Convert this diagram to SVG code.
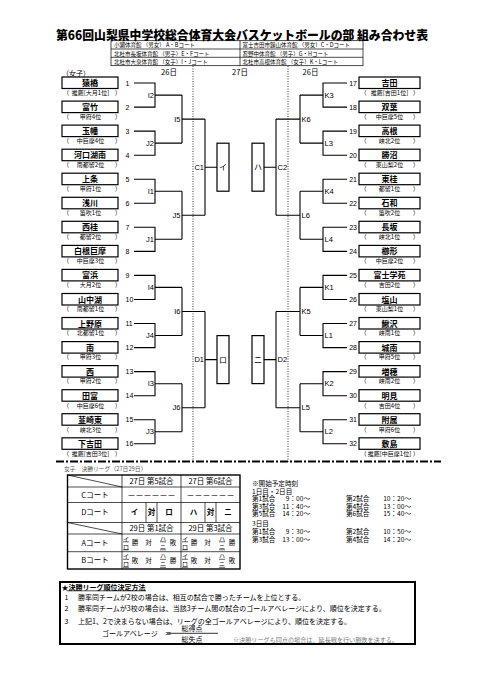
<svg xmlns="http://www.w3.org/2000/svg" width="481" height="680" viewBox="0 0 481 680">
<style>
.t{font-family:"Noto Sans CJK JP","Noto Sans",sans-serif;fill:#000}
.l{font-family:"Liberation Sans",Arial,sans-serif;fill:#000}
.box{fill:#fff;stroke:#000;stroke-width:1.2}
.ln{fill:none;stroke:#000;stroke-width:1.1}
.thin{fill:none;stroke:#000;stroke-width:0.7}
.nm{font-size:8px;font-weight:700;text-anchor:middle}
.sb{font-size:6px;text-anchor:middle}
.pl{font-size:6px}
.pr{font-size:6px;text-anchor:end}
.num{font-size:7px}
.numr{font-size:7px;text-anchor:end}
.lab{font-size:7.5px;text-anchor:end}
.labr{font-size:7.5px}
.hd{font-size:5.5px}
.mid{text-anchor:middle}
.tb{font-size:7.5px;text-anchor:middle}
.sc{font-size:6.6px}
.sce{font-size:6.6px;text-anchor:end}
.nt{font-size:7px}
</style>
<rect x="0" y="0" width="481" height="680" fill="#fff"/>

<g id="title">
<text class="t" x="56" y="40.3" font-size="12.3" font-weight="900" textLength="372" lengthAdjust="spacingAndGlyphs">第66回山梨県中学校総合体育大会バスケットボールの部 組み合わせ表</text>
</g>

<g id="venues">
<rect class="thin" x="111" y="40.7" width="252" height="25"/>
<line class="thin" x1="240" y1="40.7" x2="240" y2="65.7"/>
<line class="thin" x1="111" y1="49" x2="363" y2="49"/>
<line class="thin" x1="111" y1="57.3" x2="363" y2="57.3"/>
<text class="t hd" x="114" y="47.4">小瀬体育館 （男女） A・Bコート</text>
<text class="t hd" x="242.5" y="47.4">富士吉田市鐘山体育館 （男女）C・Dコート</text>
<text class="t hd" x="114" y="55.6">北杜市長坂体育館 （男子）E・Fコート</text>
<text class="t hd" x="242.5" y="55.6">忍野中体育館 （男子）G・Hコート</text>
<text class="t hd" x="114" y="63.8">北杜市大泉体育館 （女子）I・Jコート</text>
<text class="t hd" x="242.5" y="63.8">北杜市高根体育館 （女子）K・Lコート</text>
</g>

<g id="dayheads">
<text class="t" x="62" y="75.5" font-size="7">（女子）</text>
<text class="t mid" x="169" y="75" font-size="7.5">26日</text>
<text class="t mid" x="240" y="75" font-size="7.5">27日</text>
<text class="t mid" x="310.5" y="75" font-size="7.5">26日</text>
</g>

<g id="separators">
<line x1="193" y1="66" x2="193" y2="462" stroke="#000" stroke-width="0.8" stroke-dasharray="1 1.5"/>
<line x1="288" y1="66" x2="288" y2="462" stroke="#000" stroke-width="0.8" stroke-dasharray="1 1.5"/>
<line x1="56" y1="461.5" x2="441" y2="461.5" stroke="#000" stroke-width="2" stroke-dasharray="8 2 2 2"/>
</g>

<g id="connectors">
<path class="ln" d="M134 83 H155 V107.1 H134 M155 95.1 H182 M134 131.1 H155 V155.2 H134 M155 143.1 H182 M134 179.2 H155 V203.3 H134 M155 191.2 H182 M134 227.3 H155 V251.4 H134 M155 239.3 H182 M134 275.4 H155 V299.5 H134 M155 287.4 H182 M134 323.5 H155 V347.6 H134 M155 335.5 H182 M134 371.6 H155 V395.7 H134 M155 383.7 H182 M134 419.7 H155 V443.8 H134 M155 431.7 H182"/>
<path class="ln" d="M182 95.1 V143.1 M182 119.1 H205 M182 191.2 V239.3 M182 215.3 H205 M182 287.4 V335.5 M182 311.5 H205 M182 383.7 V431.7 M182 407.7 H205"/>
<path class="ln" d="M205 119.1 V215.3 M205 167.2 H217 M205 311.5 V407.7 M205 359.6 H217"/>
<path class="ln" d="M347 83 H323 V107.1 H347 M323 95.1 H300 M347 131.1 H323 V155.2 H347 M323 143.1 H300 M347 179.2 H323 V203.3 H347 M323 191.2 H300 M347 227.3 H323 V251.4 H347 M323 239.3 H300 M347 275.4 H323 V299.5 H347 M323 287.4 H300 M347 323.5 H323 V347.6 H347 M323 335.5 H300 M347 371.6 H323 V395.7 H347 M323 383.7 H300 M347 419.7 H323 V443.8 H347 M323 431.7 H300"/>
<path class="ln" d="M300 95.1 V143.1 M300 119.1 H276 M300 191.2 V239.3 M300 215.3 H276 M300 287.4 V335.5 M300 311.5 H276 M300 383.7 V431.7 M300 407.7 H276"/>
<path class="ln" d="M276 119.1 V215.3 M276 167.2 H264 M276 311.5 V407.7 M276 359.6 H264"/>
</g>

<g id="match-labels">
<text class="l lab" x="154" y="97.7">I2</text>
<text class="l lab" x="154" y="145.7">J2</text>
<text class="l lab" x="154" y="193.8">I1</text>
<text class="l lab" x="154" y="241.9">J1</text>
<text class="l lab" x="154" y="290">I4</text>
<text class="l lab" x="154" y="338.1">J4</text>
<text class="l lab" x="154" y="386.3">I3</text>
<text class="l lab" x="154" y="434.3">J3</text>
<text class="l lab" x="180.5" y="121.7">I5</text>
<text class="l lab" x="180.5" y="217.9">J5</text>
<text class="l lab" x="180.5" y="314.1">I6</text>
<text class="l lab" x="180.5" y="410.3">J6</text>
<text class="l lab" x="204" y="169.8">C1</text>
<text class="l lab" x="204" y="362.2">D1</text>
<text class="l labr" x="324.5" y="97.7">K3</text>
<text class="l labr" x="324.5" y="145.7">L3</text>
<text class="l labr" x="324.5" y="193.8">K4</text>
<text class="l labr" x="324.5" y="241.9">L4</text>
<text class="l labr" x="324.5" y="290">K1</text>
<text class="l labr" x="324.5" y="338.1">L1</text>
<text class="l labr" x="324.5" y="386.3">K2</text>
<text class="l labr" x="324.5" y="434.3">L2</text>
<text class="l labr" x="301.5" y="121.7">K6</text>
<text class="l labr" x="301.5" y="217.9">L6</text>
<text class="l labr" x="301.5" y="314.1">K5</text>
<text class="l labr" x="301.5" y="410.3">L5</text>
<text class="l labr" x="277.5" y="169.8">C2</text>
<text class="l labr" x="277.5" y="362.2">D2</text>
</g>

<g id="final-i"><rect class="box" x="217" y="143.2" width="12" height="48"/><text class="t mid" x="223" y="170" font-size="8">イ</text></g>
<g id="final-ro"><rect class="box" x="217" y="335.6" width="12" height="48"/><text class="t mid" x="223" y="362.5" font-size="8">ロ</text></g>
<g id="final-ha"><rect class="box" x="252" y="143.2" width="12" height="48"/><text class="t mid" x="258" y="170" font-size="8">ハ</text></g>
<g id="final-ni"><rect class="box" x="252" y="335.6" width="12" height="48"/><text class="t mid" x="258" y="362.5" font-size="8">ニ</text></g>

<g id="team1"><rect class="box" x="62" y="77" width="56" height="11.5"/><text class="t nm" x="90" y="86">猿橋</text><text class="t pl" x="63" y="94.8">（</text><text class="t sb" x="90.5" y="94.8">推薦[大月1位]</text><text class="t pr" x="121" y="94.8">）</text><text class="l num" x="125.5" y="85.5">1</text></g>
<g id="team2"><rect class="box" x="62" y="101.1" width="56" height="11.5"/><text class="t nm" x="90" y="110.1">富竹</text><text class="t pl" x="63" y="118.9">（</text><text class="t sb" x="90.5" y="118.9">甲府4位</text><text class="t pr" x="121" y="118.9">）</text><text class="l num" x="125.5" y="109.6">2</text></g>
<g id="team3"><rect class="box" x="62" y="125.1" width="56" height="11.5"/><text class="t nm" x="90" y="134.1">玉幡</text><text class="t pl" x="63" y="142.9">（</text><text class="t sb" x="90.5" y="142.9">中巨摩4位</text><text class="t pr" x="121" y="142.9">）</text><text class="l num" x="125.5" y="133.6">3</text></g>
<g id="team4"><rect class="box" x="62" y="149.2" width="56" height="11.5"/><text class="t nm" x="90" y="158.2">河口湖南</text><text class="t pl" x="63" y="167">（</text><text class="t sb" x="90.5" y="167">南都留2位</text><text class="t pr" x="121" y="167">）</text><text class="l num" x="125.5" y="157.7">4</text></g>
<g id="team5"><rect class="box" x="62" y="173.2" width="56" height="11.5"/><text class="t nm" x="90" y="182.2">上条</text><text class="t pl" x="63" y="191">（</text><text class="t sb" x="90.5" y="191">甲府1位</text><text class="t pr" x="121" y="191">）</text><text class="l num" x="125.5" y="181.7">5</text></g>
<g id="team6"><rect class="box" x="62" y="197.3" width="56" height="11.5"/><text class="t nm" x="90" y="206.3">浅川</text><text class="t pl" x="63" y="215.1">（</text><text class="t sb" x="90.5" y="215.1">笛吹1位</text><text class="t pr" x="121" y="215.1">）</text><text class="l num" x="125.5" y="205.8">6</text></g>
<g id="team7"><rect class="box" x="62" y="221.3" width="56" height="11.5"/><text class="t nm" x="90" y="230.3">西桂</text><text class="t pl" x="63" y="239.1">（</text><text class="t sb" x="90.5" y="239.1">都留2位</text><text class="t pr" x="121" y="239.1">）</text><text class="l num" x="125.5" y="229.8">7</text></g>
<g id="team8"><rect class="box" x="62" y="245.4" width="56" height="11.5"/><text class="t nm" x="90" y="254.4">白根巨摩</text><text class="t pl" x="63" y="263.2">（</text><text class="t sb" x="90.5" y="263.2">中巨摩3位</text><text class="t pr" x="121" y="263.2">）</text><text class="l num" x="125.5" y="253.9">8</text></g>
<g id="team9"><rect class="box" x="62" y="269.4" width="56" height="11.5"/><text class="t nm" x="90" y="278.4">富浜</text><text class="t pl" x="63" y="287.2">（</text><text class="t sb" x="90.5" y="287.2">大月2位</text><text class="t pr" x="121" y="287.2">）</text><text class="l num" x="125.5" y="277.9">9</text></g>
<g id="team10"><rect class="box" x="62" y="293.5" width="56" height="11.5"/><text class="t nm" x="90" y="302.5">山中湖</text><text class="t pl" x="63" y="311.3">（</text><text class="t sb" x="90.5" y="311.3">南都留1位</text><text class="t pr" x="121" y="311.3">）</text><text class="l num" x="125.5" y="302">10</text></g>
<g id="team11"><rect class="box" x="62" y="317.5" width="56" height="11.5"/><text class="t nm" x="90" y="326.5">上野原</text><text class="t pl" x="63" y="335.3">（</text><text class="t sb" x="90.5" y="335.3">北都留1位</text><text class="t pr" x="121" y="335.3">）</text><text class="l num" x="125.5" y="326">11</text></g>
<g id="team12"><rect class="box" x="62" y="341.6" width="56" height="11.5"/><text class="t nm" x="90" y="350.6">南</text><text class="t pl" x="63" y="359.4">（</text><text class="t sb" x="90.5" y="359.4">甲府3位</text><text class="t pr" x="121" y="359.4">）</text><text class="l num" x="125.5" y="350.1">12</text></g>
<g id="team13"><rect class="box" x="62" y="365.6" width="56" height="11.5"/><text class="t nm" x="90" y="374.6">西</text><text class="t pl" x="63" y="383.4">（</text><text class="t sb" x="90.5" y="383.4">甲府2位</text><text class="t pr" x="121" y="383.4">）</text><text class="l num" x="125.5" y="374.1">13</text></g>
<g id="team14"><rect class="box" x="62" y="389.7" width="56" height="11.5"/><text class="t nm" x="90" y="398.7">田富</text><text class="t pl" x="63" y="407.5">（</text><text class="t sb" x="90.5" y="407.5">中巨摩6位</text><text class="t pr" x="121" y="407.5">）</text><text class="l num" x="125.5" y="398.2">14</text></g>
<g id="team15"><rect class="box" x="62" y="413.7" width="56" height="11.5"/><text class="t nm" x="90" y="422.7">韮崎東</text><text class="t pl" x="63" y="431.5">（</text><text class="t sb" x="90.5" y="431.5">峡北3位</text><text class="t pr" x="121" y="431.5">）</text><text class="l num" x="125.5" y="422.2">15</text></g>
<g id="team16"><rect class="box" x="62" y="437.8" width="56" height="11.5"/><text class="t nm" x="90" y="446.8">下吉田</text><text class="t pl" x="63" y="455.6">（</text><text class="t sb" x="90.5" y="455.6">推薦[吉田3位]</text><text class="t pr" x="121" y="455.6">）</text><text class="l num" x="125.5" y="446.3">16</text></g>

<g id="team17"><rect class="box" x="359" y="77" width="61" height="11.5"/><text class="t nm" x="389.5" y="86">吉田</text><text class="t pl" x="360.5" y="94.8">（</text><text class="t sb" x="389.5" y="94.8">推薦[吉田1位]</text><text class="t pr" x="419" y="94.8">）</text><text class="l numr" x="357" y="85.5">17</text></g>
<g id="team18"><rect class="box" x="359" y="101.1" width="61" height="11.5"/><text class="t nm" x="389.5" y="110.1">双葉</text><text class="t pl" x="360.5" y="118.9">（</text><text class="t sb" x="389.5" y="118.9">中巨摩5位</text><text class="t pr" x="419" y="118.9">）</text><text class="l numr" x="357" y="109.6">18</text></g>
<g id="team19"><rect class="box" x="359" y="125.1" width="61" height="11.5"/><text class="t nm" x="389.5" y="134.1">高根</text><text class="t pl" x="360.5" y="142.9">（</text><text class="t sb" x="389.5" y="142.9">峡北2位</text><text class="t pr" x="419" y="142.9">）</text><text class="l numr" x="357" y="133.6">19</text></g>
<g id="team20"><rect class="box" x="359" y="149.2" width="61" height="11.5"/><text class="t nm" x="389.5" y="158.2">勝沼</text><text class="t pl" x="360.5" y="167">（</text><text class="t sb" x="389.5" y="167">東山梨2位</text><text class="t pr" x="419" y="167">）</text><text class="l numr" x="357" y="157.7">20</text></g>
<g id="team21"><rect class="box" x="359" y="173.2" width="61" height="11.5"/><text class="t nm" x="389.5" y="182.2">東桂</text><text class="t pl" x="360.5" y="191">（</text><text class="t sb" x="389.5" y="191">都留1位</text><text class="t pr" x="419" y="191">）</text><text class="l numr" x="357" y="181.7">21</text></g>
<g id="team22"><rect class="box" x="359" y="197.3" width="61" height="11.5"/><text class="t nm" x="389.5" y="206.3">石和</text><text class="t pl" x="360.5" y="215.1">（</text><text class="t sb" x="389.5" y="215.1">笛吹2位</text><text class="t pr" x="419" y="215.1">）</text><text class="l numr" x="357" y="205.8">22</text></g>
<g id="team23"><rect class="box" x="359" y="221.3" width="61" height="11.5"/><text class="t nm" x="389.5" y="230.3">長坂</text><text class="t pl" x="360.5" y="239.1">（</text><text class="t sb" x="389.5" y="239.1">峡北1位</text><text class="t pr" x="419" y="239.1">）</text><text class="l numr" x="357" y="229.8">23</text></g>
<g id="team24"><rect class="box" x="359" y="245.4" width="61" height="11.5"/><text class="t nm" x="389.5" y="254.4">櫛形</text><text class="t pl" x="360.5" y="263.2">（</text><text class="t sb" x="389.5" y="263.2">中巨摩2位</text><text class="t pr" x="419" y="263.2">）</text><text class="l numr" x="357" y="253.9">24</text></g>
<g id="team25"><rect class="box" x="359" y="269.4" width="61" height="11.5"/><text class="t nm" x="389.5" y="278.4">富士学苑</text><text class="t pl" x="360.5" y="287.2">（</text><text class="t sb" x="389.5" y="287.2">吉田2位</text><text class="t pr" x="419" y="287.2">）</text><text class="l numr" x="357" y="277.9">25</text></g>
<g id="team26"><rect class="box" x="359" y="293.5" width="61" height="11.5"/><text class="t nm" x="389.5" y="302.5">塩山</text><text class="t pl" x="360.5" y="311.3">（</text><text class="t sb" x="389.5" y="311.3">東山梨1位</text><text class="t pr" x="419" y="311.3">）</text><text class="l numr" x="357" y="302">26</text></g>
<g id="team27"><rect class="box" x="359" y="317.5" width="61" height="11.5"/><text class="t nm" x="389.5" y="326.5">鰍沢</text><text class="t pl" x="360.5" y="335.3">（</text><text class="t sb" x="389.5" y="335.3">峡南1位</text><text class="t pr" x="419" y="335.3">）</text><text class="l numr" x="357" y="326">27</text></g>
<g id="team28"><rect class="box" x="359" y="341.6" width="61" height="11.5"/><text class="t nm" x="389.5" y="350.6">城南</text><text class="t pl" x="360.5" y="359.4">（</text><text class="t sb" x="389.5" y="359.4">甲府5位</text><text class="t pr" x="419" y="359.4">）</text><text class="l numr" x="357" y="350.1">28</text></g>
<g id="team29"><rect class="box" x="359" y="365.6" width="61" height="11.5"/><text class="t nm" x="389.5" y="374.6">増穂</text><text class="t pl" x="360.5" y="383.4">（</text><text class="t sb" x="389.5" y="383.4">峡南2位</text><text class="t pr" x="419" y="383.4">）</text><text class="l numr" x="357" y="374.1">29</text></g>
<g id="team30"><rect class="box" x="359" y="389.7" width="61" height="11.5"/><text class="t nm" x="389.5" y="398.7">明見</text><text class="t pl" x="360.5" y="407.5">（</text><text class="t sb" x="389.5" y="407.5">吉田4位</text><text class="t pr" x="419" y="407.5">）</text><text class="l numr" x="357" y="398.2">30</text></g>
<g id="team31"><rect class="box" x="359" y="413.7" width="61" height="11.5"/><text class="t nm" x="389.5" y="422.7">附属</text><text class="t pl" x="360.5" y="431.5">（</text><text class="t sb" x="389.5" y="431.5">甲府6位</text><text class="t pr" x="419" y="431.5">）</text><text class="l numr" x="357" y="422.2">31</text></g>
<g id="team32"><rect class="box" x="359" y="437.8" width="61" height="11.5"/><text class="t nm" x="389.5" y="446.8">敷島</text><text class="t pl" x="360.5" y="455.6">（</text><text class="t sb" x="389.5" y="455.6">推薦[中巨摩1位]</text><text class="t pr" x="419" y="455.6">）</text><text class="l numr" x="357" y="446.3">32</text></g>

<g id="final-league">
<text class="t" x="64" y="471" font-size="5.8" style="fill:#555">女子　決勝リーグ（27日29日）</text>
<rect x="67.5" y="475" width="172.5" height="94" fill="none" stroke="#000" stroke-width="1.4"/>
<path class="thin" d="M67.5 487 H240 M67.5 502.5 H240 M67.5 522.5 H240 M67.5 534 H240 M67.5 551.7 H240 M122 475 V569 M181 475 V569 M146 502.5 V522.5 M157 502.5 V522.5 M205 502.5 V522.5 M216 502.5 V522.5 M67.5 475 L122 487 M67.5 522.5 L122 534"/>
<text class="t tb" x="151.5" y="484">27日 第5試合</text>
<text class="t tb" x="210.5" y="484">27日 第6試合</text>
<text class="t tb" x="151.5" y="531">29日 第1試合</text>
<text class="t tb" x="210.5" y="531">29日 第3試合</text>
<text class="t tb" x="95" y="497.5">Cコート</text>
<text class="t tb" x="95" y="515.3">Dコート</text>
<text class="t tb" x="95" y="545.8">Aコート</text>
<text class="t tb" x="95" y="563.3">Bコート</text>
<text class="t mid" x="151.5" y="497.8" font-size="8">－－－－－－</text>
<text class="t mid" x="210.5" y="497.8" font-size="8">－－－－－－</text>
<g class="t" font-size="7.5" font-weight="700" text-anchor="middle">
<text x="134.5" y="515.3">イ</text><text x="151.5" y="515.3">対</text><text x="169" y="515.3">ロ</text>
<text x="193.5" y="515.3">ハ</text><text x="210.5" y="515.3">対</text><text x="228" y="515.3">ニ</text>
</g>
<g class="t" font-size="6" text-anchor="middle">
<text x="126" y="540.7">イ</text><text x="126" y="548.7">ロ</text>
<text x="163" y="540.7">ハ</text><text x="163" y="548.7">ニ</text>
<text x="185" y="540.7">イ</text><text x="185" y="548.7">ロ</text>
<text x="222" y="540.7">ハ</text><text x="222" y="548.7">ニ</text>
<text x="126" y="558.2">イ</text><text x="126" y="566.2">ロ</text>
<text x="163" y="558.2">ハ</text><text x="163" y="566.2">ニ</text>
<text x="185" y="558.2">イ</text><text x="185" y="566.2">ロ</text>
<text x="222" y="558.2">ハ</text><text x="222" y="566.2">ニ</text>
</g>
<path fill="none" stroke="#000" stroke-width="0.6" d="M123 541.8 H129 M123 549.8 H129 M160 541.8 H166 M160 549.8 H166 M182 541.8 H188 M182 549.8 H188 M219 541.8 H225 M219 549.8 H225 M123 559.3 H129 M123 567.3 H129 M160 559.3 H166 M160 567.3 H166 M182 559.3 H188 M182 567.3 H188 M219 559.3 H225 M219 567.3 H225"/>
<g class="t" font-size="6.5" text-anchor="middle">
<text x="135" y="545.3">勝</text><text x="148.5" y="545.3">対</text><text x="173" y="545.3">敗</text>
<text x="194" y="545.3">勝</text><text x="207.5" y="545.3">対</text><text x="232" y="545.3">勝</text>
<text x="135" y="562.8">敗</text><text x="148.5" y="562.8">対</text><text x="173" y="562.8">勝</text>
<text x="194" y="562.8">敗</text><text x="207.5" y="562.8">対</text><text x="232" y="562.8">敗</text>
</g>
</g>

<g id="schedule">
<text class="t sc" x="252" y="485.5">※開始予定時刻</text>
<text class="t sc" x="252" y="493.5">1日目・2日目</text>
<text class="t sc" x="252" y="501.3">第1試合</text><text class="t sce" x="310" y="501.3">9：00～</text><text class="t sc" x="346" y="501.3">第2試合</text><text class="t sce" x="411" y="501.3">10：20～</text>
<text class="t sc" x="252" y="508.8">第3試合</text><text class="t sce" x="310" y="508.8">11：40～</text><text class="t sc" x="346" y="508.8">第4試合</text><text class="t sce" x="411" y="508.8">13：00～</text>
<text class="t sc" x="252" y="516.3">第5試合</text><text class="t sce" x="310" y="516.3">14：20～</text><text class="t sc" x="346" y="516.3">第6試合</text><text class="t sce" x="411" y="516.3">15：40～</text>
<text class="t sc" x="252" y="526">3日目</text>
<text class="t sc" x="252" y="534">第1試合</text><text class="t sce" x="310" y="534">9：30～</text><text class="t sc" x="346" y="534">第2試合</text><text class="t sce" x="411" y="534">10：50～</text>
<text class="t sc" x="252" y="541.5">第3試合</text><text class="t sce" x="310" y="541.5">13：00～</text><text class="t sc" x="346" y="541.5">第4試合</text><text class="t sce" x="411" y="541.5">14：20～</text>
</g>

<g id="ranking-rules">
<rect x="60" y="582" width="355" height="62" fill="none" stroke="#000" stroke-width="2"/>
<text class="t nt" x="61.5" y="589.5" font-weight="700">★決勝リーグ順位決定方法</text>
<line x1="67" y1="590.8" x2="146" y2="590.8" stroke="#000" stroke-width="0.7"/>
<text class="t nt" x="64.5" y="599.5">1</text><text class="t nt" x="78" y="599.5">勝率同チームが2校の場合は、相互の試合で勝ったチームを上位とする。</text>
<text class="t nt" x="64.5" y="611">2</text><text class="t nt" x="78" y="611">勝率同チームが3校の場合は、当該3チーム間の試合のゴールアベレージにより、順位を決定する。</text>
<text class="t nt" x="64.5" y="623.5">3</text><text class="t nt" x="78" y="623.5">上記1、2で決まらない場合は、リーグの全ゴールアベレージにより、順位を決定する。</text>
<text class="t nt" x="102" y="635.5">ゴールアベレージ　＝</text>
<text class="t nt mid" x="192" y="631">総得点</text>
<line x1="167" y1="633.3" x2="218" y2="633.3" stroke="#000" stroke-width="0.8"/>
<text class="t nt mid" x="192" y="641.5">総失点</text>
<text class="t" x="233" y="641.5" font-size="5.5" style="fill:#777" textLength="165" lengthAdjust="spacingAndGlyphs">※決勝リーグも同点の場合は、延長戦を行い勝敗を決する。</text>
</g>
</svg>
